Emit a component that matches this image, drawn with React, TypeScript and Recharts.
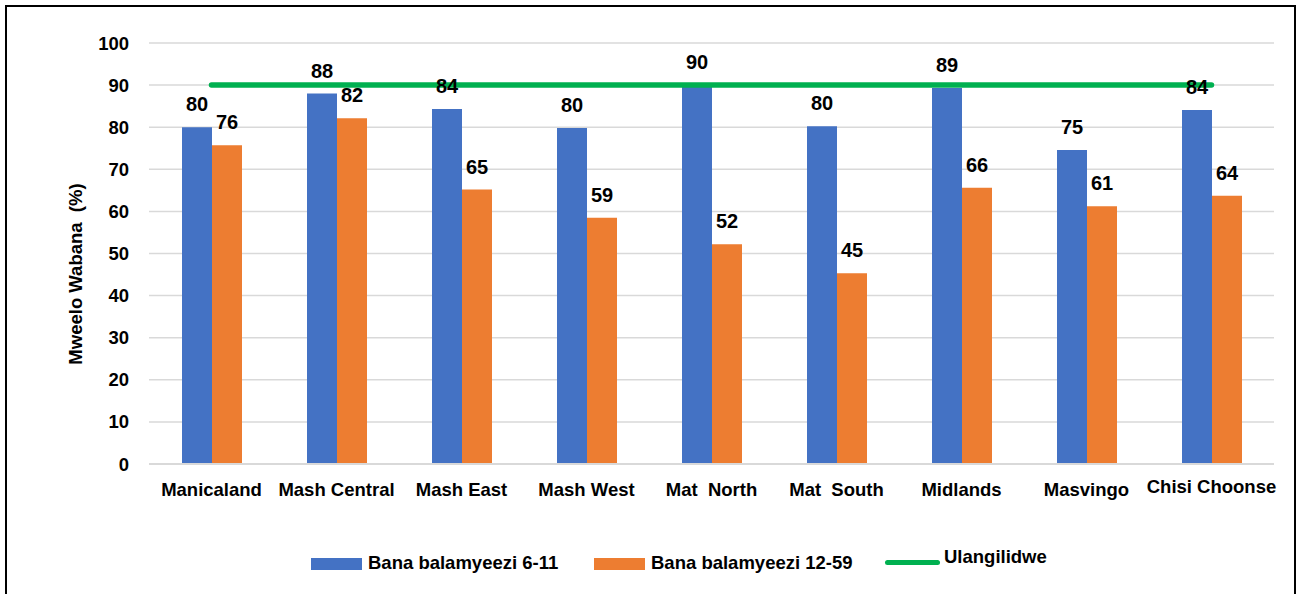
import React from 'react';
import { ComposedChart, Bar, Line, XAxis, YAxis, CartesianGrid, LabelList } from 'recharts';

const categories = ['Manicaland', 'Mash Central', 'Mash East', 'Mash West', 'Mat\u00A0 North', 'Mat\u00A0 South', 'Midlands', 'Masvingo', 'Chisi Choonse'];
const young = [80, 88, 84.3, 79.8, 90, 80.2, 89.3, 74.6, 84.1];
const older = [75.7, 82.1, 65.2, 58.5, 52.2, 45.3, 65.6, 61.2, 63.7];
const target = [90, 90, 90, 90, 90, 90, 90, 90, 90];
const yTicks = [0, 10, 20, 30, 40, 50, 60, 70, 80, 90, 100];

const seriesNames = ['Bana balamyeezi 6-11', 'Bana balamyeezi 12-59', 'Ulangilidwe'];
const yTitle = 'Mweelo Wabana  (%)';

const data = categories.map((c, i) => ({ name: c, young: young[i], older: older[i], target: target[i] }));

const FONT = '"Liberation Sans", Arial, sans-serif';
const BLUE = '#4472C4';
const ORANGE = '#ED7D31';
const GREEN = '#00B050';

const fmt = (v: any) => String(Math.round(Number(v)));

const XTick = (props: any) => {
  const { x, y, payload, index } = props;
  const last = index === categories.length - 1;
  return (
    <text x={x} y={y + (last ? -3 : 0)} dy="0.71em" textAnchor="middle" fill="#000" fontSize={18.5} fontWeight={700} fontFamily={FONT} style={{ whiteSpace: 'pre' }}>
      {payload.value}
    </text>
  );
};

export default function App() {
  return (
    <div style={{ position: 'absolute', left: 5, top: 5, width: 1291, height: 589, borderTop: '2px solid #000', borderLeft: '2px solid #000', borderRight: '2px solid #000', boxSizing: 'border-box', background: '#fff', fontFamily: FONT }}>
      <ComposedChart width={1287} height={587} data={data} margin={{ top: 36, right: 20, left: 82, bottom: 90 }} barGap={0} barSize={30}>
        <CartesianGrid horizontal vertical={false} stroke="#D9D9D9" strokeWidth={1.5} />
        <XAxis dataKey="name" interval={0} height={40} tickLine={false} axisLine={{ stroke: '#D9D9D9', strokeWidth: 2 }} tickSize={0} tickMargin={19} tick={<XTick />} />
        <YAxis width={60} domain={[0, 100]} ticks={yTicks} interval={0} axisLine={false} tickLine={false} tickSize={0} tickMargin={20} tick={{ fill: '#000', fontSize: 18.5, fontWeight: 700, fontFamily: FONT }} />
        <Line dataKey="target" name={seriesNames[2]} stroke={GREEN} strokeWidth={5.5} strokeLinecap="round" dot={false} activeDot={false} isAnimationActive={false} />
        <Bar dataKey="young" name={seriesNames[0]} fill={BLUE} isAnimationActive={false}>
          <LabelList dataKey="young" position="top" offset={16} formatter={fmt} style={{ fill: '#000', fontSize: 20, fontWeight: 700, fontFamily: FONT }} />
        </Bar>
        <Bar dataKey="older" name={seriesNames[1]} fill={ORANGE} isAnimationActive={false}>
          <LabelList dataKey="older" position="top" offset={16} formatter={fmt} style={{ fill: '#000', fontSize: 20, fontWeight: 700, fontFamily: FONT }} />
        </Bar>
      </ComposedChart>
      <svg width={60} height={300} style={{ position: 'absolute', left: 38, top: 120 }}>
        <text x={30} y={147} transform="rotate(-90 30 147)" textAnchor="middle" dominantBaseline="central" fontSize={18.5} fontWeight={700} fontFamily={FONT} fill="#000" style={{ whiteSpace: 'pre' }}>{yTitle}</text>
      </svg>
      <div style={{ position: 'absolute', left: 304, top: 551, width: 51, height: 12, background: BLUE }} />
      <div style={{ position: 'absolute', left: 361, top: 545, lineHeight: '22px', fontSize: 18.5, fontWeight: 700, whiteSpace: 'nowrap' }}>{seriesNames[0]}</div>
      <div style={{ position: 'absolute', left: 587, top: 551, width: 51, height: 12, background: ORANGE }} />
      <div style={{ position: 'absolute', left: 644, top: 545, lineHeight: '22px', fontSize: 18.5, fontWeight: 700, whiteSpace: 'nowrap' }}>{seriesNames[1]}</div>
      <div style={{ position: 'absolute', left: 878, top: 553, width: 55, height: 5, background: GREEN, borderRadius: 3 }} />
      <div style={{ position: 'absolute', left: 937, top: 539, lineHeight: '22px', fontSize: 18.5, fontWeight: 700, whiteSpace: 'nowrap' }}>{seriesNames[2]}</div>
    </div>
  );
}
